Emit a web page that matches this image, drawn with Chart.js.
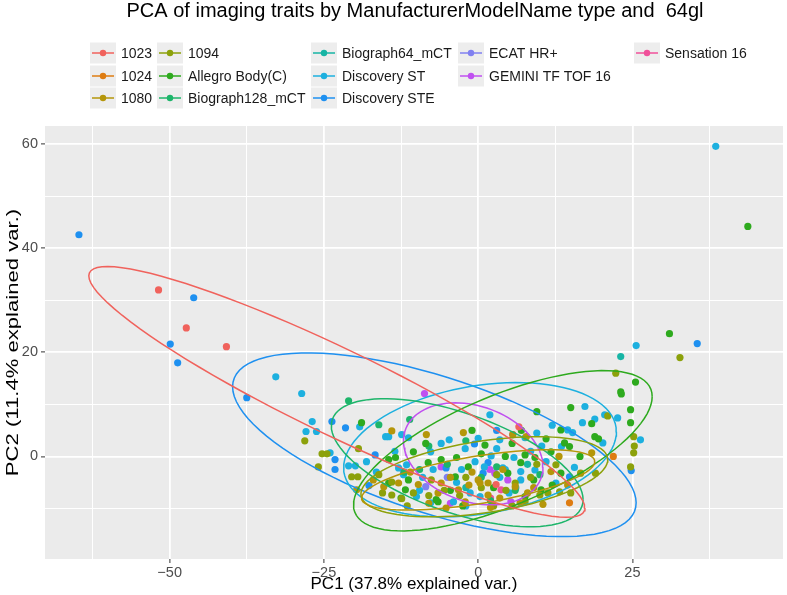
<!DOCTYPE html>
<html>
<head>
<meta charset="utf-8">
<script src="https://cdn.jsdelivr.net/npm/chart.js@4.4.1/dist/chart.umd.min.js"></script>
<style>
  html, body { margin: 0; padding: 0; background: #fff; }
  #wrap { width: 787px; height: 595px; }
</style>
</head>
<body>
<div id="wrap"><canvas id="chart" width="787" height="595"></canvas></div>
<script>
const groups = ['1023', '1024', '1080', '1094', 'Allegro Body(C)', 'Biograph128_mCT', 'Biograph64_mCT',
  'Discovery ST', 'Discovery STE', 'ECAT HR+', 'GEMINI TF TOF 16', 'Sensation 16'];

// PC1 / PC2 scores per scanner model
const p1023 = [[-51.8,32.0],[-47.3,24.7],[-40.8,21.1],[6.6,5.7],[2.9,-5.4]];
const p1024 = [[14.8,-8.9],[21.9,0.0]];
const p1080 = [[-14.0,4.9],[-15.3,-5.8],[13.1,0.0],[11.8,-2.9],[6.0,-5.8],[1.6,-5.1],[0.0,-4.5],[-2.1,-8.7],
  [-5.2,-9.9],[-6.0,-5.1],[-9.7,-5.4],[7.8,3.8],[-12.9,-5.1],[6.8,-8.9],[1.6,-7.4],[-3.2,-6.4],[0.3,-5.1],
  [-2.4,4.6],[5.6,4.2],[-8.4,4.2],[18.4,0.7],[-19.7,-6.4],[9.0,-6.0],[3.5,-8.0],[-4.5,-4.0],[-1.0,-3.0],
  [10.5,-9.2],[-8.0,-9.0],[-11.0,-3.0],[4.0,-2.5],[-6.5,-7.0],[2.0,-9.8],[8.0,-7.0],[14.5,-5.5],
  [-17.0,-4.5],[-1.5,-5.5]];
const p1094 = [[32.7,19.0],[22.3,16.0],[21.0,7.8],[25.2,3.8],[25.3,2.0],[25.2,0.7],[24.7,-2.0],[-28.1,3.0],
  [-25.3,0.5],[-24.5,0.5],[-25.9,-2.0],[-19.4,1.5],[-20.5,-3.9],[-19.5,-3.9],[-16.1,-3.5],[-15.5,-7.0],
  [12.6,-1.6],[16.6,-3.2],[19.0,-3.2],[11.3,-7.0],[13.2,-6.8],[10.0,-7.4],[6.0,-5.1],[-14.0,-7.4],
  [-12.4,-8.1],[-14.0,-4.9],[-7.6,-4.5],[7.6,-8.7],[-3.0,-7.5],[2.5,-9.5],[4.5,-6.5],[-10.5,-7.0],
  [8.5,-4.0],[-5.5,-6.5],[-8.0,-7.5],[0.5,-6.0],[5.5,-9.5],[-2.0,-4.0],[9.5,-1.5],[-11.5,-9.5],
  [15.0,-7.0],[3.0,-3.5]];
const pAllegro = [[43.7,44.2],[31.0,23.6],[25.5,14.3],[23.1,12.4],[23.2,12.0],[24.7,9.0],[24.7,6.5],[15.0,9.4],
  [9.5,8.6],[18.4,6.3],[13.4,5.1],[18.9,3.8],[19.5,3.4],[14.0,2.6],[14.8,1.9],[11.0,3.4],[11.8,0.9],
  [13.4,-3.2],[10.2,-6.4],[7.6,-7.7],[4.4,0.0],[7.6,0.3],[9.2,-0.2],[6.9,-1.2],[4.8,-3.2],[1.1,2.2],
  [-1.6,-2.0],[-3.5,-0.2],[-6.0,-0.6],[-8.1,-1.2],[-3.7,-3.9],[-6.5,-8.7],[-6.8,-8.3],[-11.8,-6.4],
  [-11.3,-4.5],[-10.5,0.9],[-14.5,-0.6],[-13.4,-0.2],[-18.9,6.5],[-14.5,-5.1],[-1.0,5.0],[2.5,-6.0],
  [-4.5,-6.5],[9.0,-4.5],[0.5,0.5],[-8.5,2.5],[12.0,-5.5],[5.5,2.5],[-2.5,-9.5],[16.5,0.0],
  [-12.5,-8.0],[7.0,5.0]];
const pBio128 = [[-21.0,10.7],[-16.1,6.1],[-11.1,7.1],[-8.0,2.0],[-5.0,-1.5],[0.5,-4.0],[3.0,-2.0],[6.0,-6.5],
  [10.0,-3.5],[-2.0,3.0],[-12.0,-3.0],[-9.5,-2.5],[2.0,-8.5]];
const pBio64 = [[23.1,19.2],[-2.0,-6.0],[8.0,-1.5]];
const pDiscST = [[38.5,59.6],[25.6,21.3],[-32.8,15.3],[-28.6,12.1],[-26.9,6.7],[-27.9,4.8],[-26.2,4.8],
  [-24.0,0.7],[-21.0,-1.8],[-19.9,-1.8],[-18.1,-1.0],[-19.2,5.7],[-15.0,3.8],[26.3,3.2],[17.3,9.6],
  [20.5,8.0],[22.6,7.4],[18.9,7.2],[16.9,6.5],[14.5,5.1],[15.3,4.6],[20.2,2.6],[13.5,1.9],[10.3,2.0],
  [15.6,-2.1],[12.6,-5.1],[1.9,8.0],[-4.7,3.2],[-2.1,1.5],[3.5,3.2],[7.6,3.6],[5.8,-0.2],[4.0,-2.2],
  [6.9,-2.9],[9.2,-2.6],[6.9,-4.5],[-12.4,4.2],[-11.3,3.6],[-7.7,0.9],[2.1,0.1],[-0.5,-1.0],[-7.3,-2.5],
  [-2.7,-2.5],[4.4,-2.5],[6.1,-6.0],[-12.1,-3.5],[-10.0,-7.7],[-1.3,-7.0],[0.3,-7.7],[-4.0,-8.7],
  [-11.6,-1.6],[-12.9,-2.2],[-7.7,-8.9],[-14.5,3.8],[-9.0,-4.0],[-3.5,-5.0],[1.0,-2.0],[3.0,1.5],
  [8.5,1.0],[11.0,-1.0],[-6.0,2.5],[0.0,3.5],[-13.5,1.0],[-9.5,-6.5],[5.0,-7.0],[-2.0,-9.5],
  [9.5,4.5],[12.0,6.0],[-16.5,-3.0],[3.5,-4.0]];
const pDiscSTE = [[-64.7,42.6],[-46.1,30.5],[-49.9,21.6],[-48.7,18.0],[-37.5,11.3],[35.5,21.7],[-23.7,6.7],
  [-21.5,5.5],[-23.2,-0.6],[-23.2,-2.5],[-16.7,0.3],[-17.7,-5.6],[24.8,-2.7],[14.8,-3.9],[-0.6,2.4],
  [1.6,-1.2],[-5.2,-2.2],[0.8,-3.2],[3.0,5.0]];
const pECAT = [[-8.5,-5.8],[-5.0,-4.0]];
const pGemini = [[-8.7,12.1],[5.6,4.2],[1.9,-2.5],[2.7,-3.2],[4.8,-4.5],[5.3,-8.7],[-12.1,-3.2],[-6.0,-2.0],[-4.5,-9.0]];
const pSensation = [[3.7,-6.4],[2.0,-8.0]];

const groupPoints = [p1023, p1024, p1080, p1094, pAllegro, pBio128, pBio64, pDiscST, pDiscSTE, pECAT, pGemini, pSensation];

// 68% ellipses: centre, right-most point and top y
const ellGroup = [0, 2, 3, 4, 5, 7, 8, 10];
const ellCenter = [[-22.9,12.4],[0.0,-4.5],[1.0,-3.9],[4.0,1.1],[-3.4,-1.2],[0.3,1.3],[-7.1,2.25],[-0.8,0.5]];
const ellRight = [[17.3,-9.9],[18.9,-1.0],[21.0,-0.6],[28.2,11.5],[17.0,-8.3],[22.4,4.75],[25.6,-8.9],[10.5,-2.0]];
const ellTop = [36.5, 1.3, 3.8, 16.5, 11.1, 14.2, 19.9, 10.3];

const xTicks = [-62.5, -50, -37.5, -25, -12.5, 0, 12.5, 25, 37.5];
const yTicks = [-10, 0, 10, 20, 30, 40, 50, 60];

const colors = ['#F0625C', '#DE7C12', '#B5960A', '#8CA10B', '#2EAA1E', '#1DB56A', '#17B5A5',
  '#1DB0DF', '#1E90F0', '#8080F0', '#C050F0', '#F0509A'];

const FONT = '"Liberation Sans", Arial, Helvetica, sans-serif';

function ellipsePath(i) {
  var c = ellCenter[i], r = ellRight[i];
  var ax = r[0] - c[0], ay = r[1] - c[1];
  var h = ellTop[i] - c[1];
  var k = Math.sqrt(Math.max(h * h - ay * ay, 0));
  var out = [];
  for (var j = 0; j <= 96; j++) {
    var t = j / 96 * 2 * Math.PI;
    out.push({x: c[0] + ax * Math.cos(t), y: c[1] + ay * Math.cos(t) + k * Math.sin(t)});
  }
  return out;
}

let datasets = [];
ellGroup.forEach(function (g, i) {
  datasets.push({
    label: groups[g] + ' ellipse',
    data: ellipsePath(i),
    showLine: true,
    borderColor: colors[g],
    borderWidth: 1.5,
    pointRadius: 0,
    fill: false,
    order: 0
  });
});
groupPoints.forEach(function (pts, g) {
  datasets.push({
    label: groups[g],
    data: pts.map(p => ({x: p[0], y: p[1]})),
    backgroundColor: colors[g],
    borderWidth: 0,
    pointRadius: 3.6,
    order: 1
  });
});

const legendCols = [[0, 1, 2], [3, 4, 5], [6, 7, 8], [9, 10], [11]];
const legendX = [90, 157, 311, 458, 634];
const legendY = [53, 76, 98];

const panel = {
  id: 'panel',
  beforeDraw(chart) {
    const a = chart.chartArea, ctx = chart.ctx;
    ctx.save();
    ctx.fillStyle = '#fff';
    ctx.fillRect(0, 0, chart.width, chart.height);
    ctx.fillStyle = '#EBEBEB';
    ctx.fillRect(a.left, a.top, a.right - a.left, a.bottom - a.top);
    ctx.restore();
  },
  afterDraw(chart) {
    const ctx = chart.ctx, a = chart.chartArea;
    ctx.save();
    ctx.fillStyle = '#000';
    ctx.font = '20px ' + FONT;
    ctx.textAlign = 'center';
    ctx.textBaseline = 'alphabetic';
    ctx.fillText('PCA of imaging traits by ManufacturerModelName type and  64gl', 415, 17);

    // y title, stretched along its length like in the source picture
    ctx.save();
    ctx.translate(13, (a.top + a.bottom) / 2);
    ctx.rotate(-Math.PI / 2);
    ctx.scale(1.3, 1);
    ctx.font = '17px ' + FONT;
    ctx.textBaseline = 'middle';
    ctx.fillText('PC2 (11.4% explained var.)', 0, 0);
    ctx.restore();

    ctx.font = '14px ' + FONT;
    ctx.textAlign = 'left';
    ctx.textBaseline = 'middle';
    legendCols.forEach(function (col, ci) {
      col.forEach(function (g, ri) {
        const x = legendX[ci], y = legendY[ri];
        ctx.fillStyle = '#EDEDED';
        ctx.fillRect(x, y - 10.5, 26, 21);
        ctx.strokeStyle = colors[g];
        ctx.lineWidth = 1.5;
        ctx.beginPath();
        ctx.moveTo(x + 2, y);
        ctx.lineTo(x + 24, y);
        ctx.stroke();
        ctx.fillStyle = colors[g];
        ctx.beginPath();
        ctx.arc(x + 13, y, 3.2, 0, 2 * Math.PI);
        ctx.fill();
        ctx.fillStyle = '#1A1A1A';
        ctx.fillText(groups[g], x + 31, y + 1);
      });
    });
    ctx.restore();
  }
};

function isMajor(v, step) {
  return Math.abs(v / step - Math.round(v / step)) < 1e-6;
}

var myChart = new Chart(document.getElementById('chart'), {
  type: 'scatter',
  data: { datasets: datasets },
  plugins: [panel],
  options: {
    responsive: false,
    animation: false,
    layout: { padding: { top: 126, right: 1, left: 0, bottom: 0 } },
    plugins: {
      legend: { display: false },
      title: { display: false },
      tooltip: { enabled: false }
    },
    scales: {
      x: {
        type: 'linear',
        min: -70.2,
        max: 49.4,
        afterBuildTicks: s => { s.ticks = xTicks.map(v => ({value: v})); },
        afterFit: s => { s.height = 36; },
        border: { display: false },
        grid: {
          color: '#fff',
          lineWidth: c => (c.tick && isMajor(c.tick.value, 25)) ? 1.8 : 1.0,
          tickColor: c => (c.tick && isMajor(c.tick.value, 25)) ? '#333' : 'rgba(0,0,0,0)',
          tickWidth: 1,
          tickLength: 4
        },
        ticks: {
          padding: 1,
          color: '#4D4D4D',
          font: { family: FONT, size: 14.5 },
          maxRotation: 0,
          autoSkip: false,
          callback: v => isMajor(v, 25) ? String(v).replace('-', '\u2212') : ''
        },
        title: {
          display: true,
          text: 'PC1 (37.8% explained var.)',
          color: '#000',
          font: { family: FONT, size: 17 },
          padding: { top: 0, bottom: 0 }
        }
      },
      y: {
        type: 'linear',
        min: -19.7,
        max: 63.5,
        afterBuildTicks: s => { s.ticks = yTicks.map(v => ({value: v})); },
        afterFit: s => { s.width = 45; },
        border: { display: false },
        grid: {
          color: '#fff',
          lineWidth: c => (c.tick && isMajor(c.tick.value, 20)) ? 1.8 : 1.0,
          tickColor: c => (c.tick && isMajor(c.tick.value, 20)) ? '#333' : 'rgba(0,0,0,0)',
          tickWidth: 1,
          tickLength: 4
        },
        ticks: {
          padding: 3,
          color: '#4D4D4D',
          font: { family: FONT, size: 14.5 },
          autoSkip: false,
          callback: v => isMajor(v, 20) ? String(v).replace('-', '\u2212') : ''
        },
        title: { display: false }
      }
    }
  }
});
</script>
</body>
</html>
